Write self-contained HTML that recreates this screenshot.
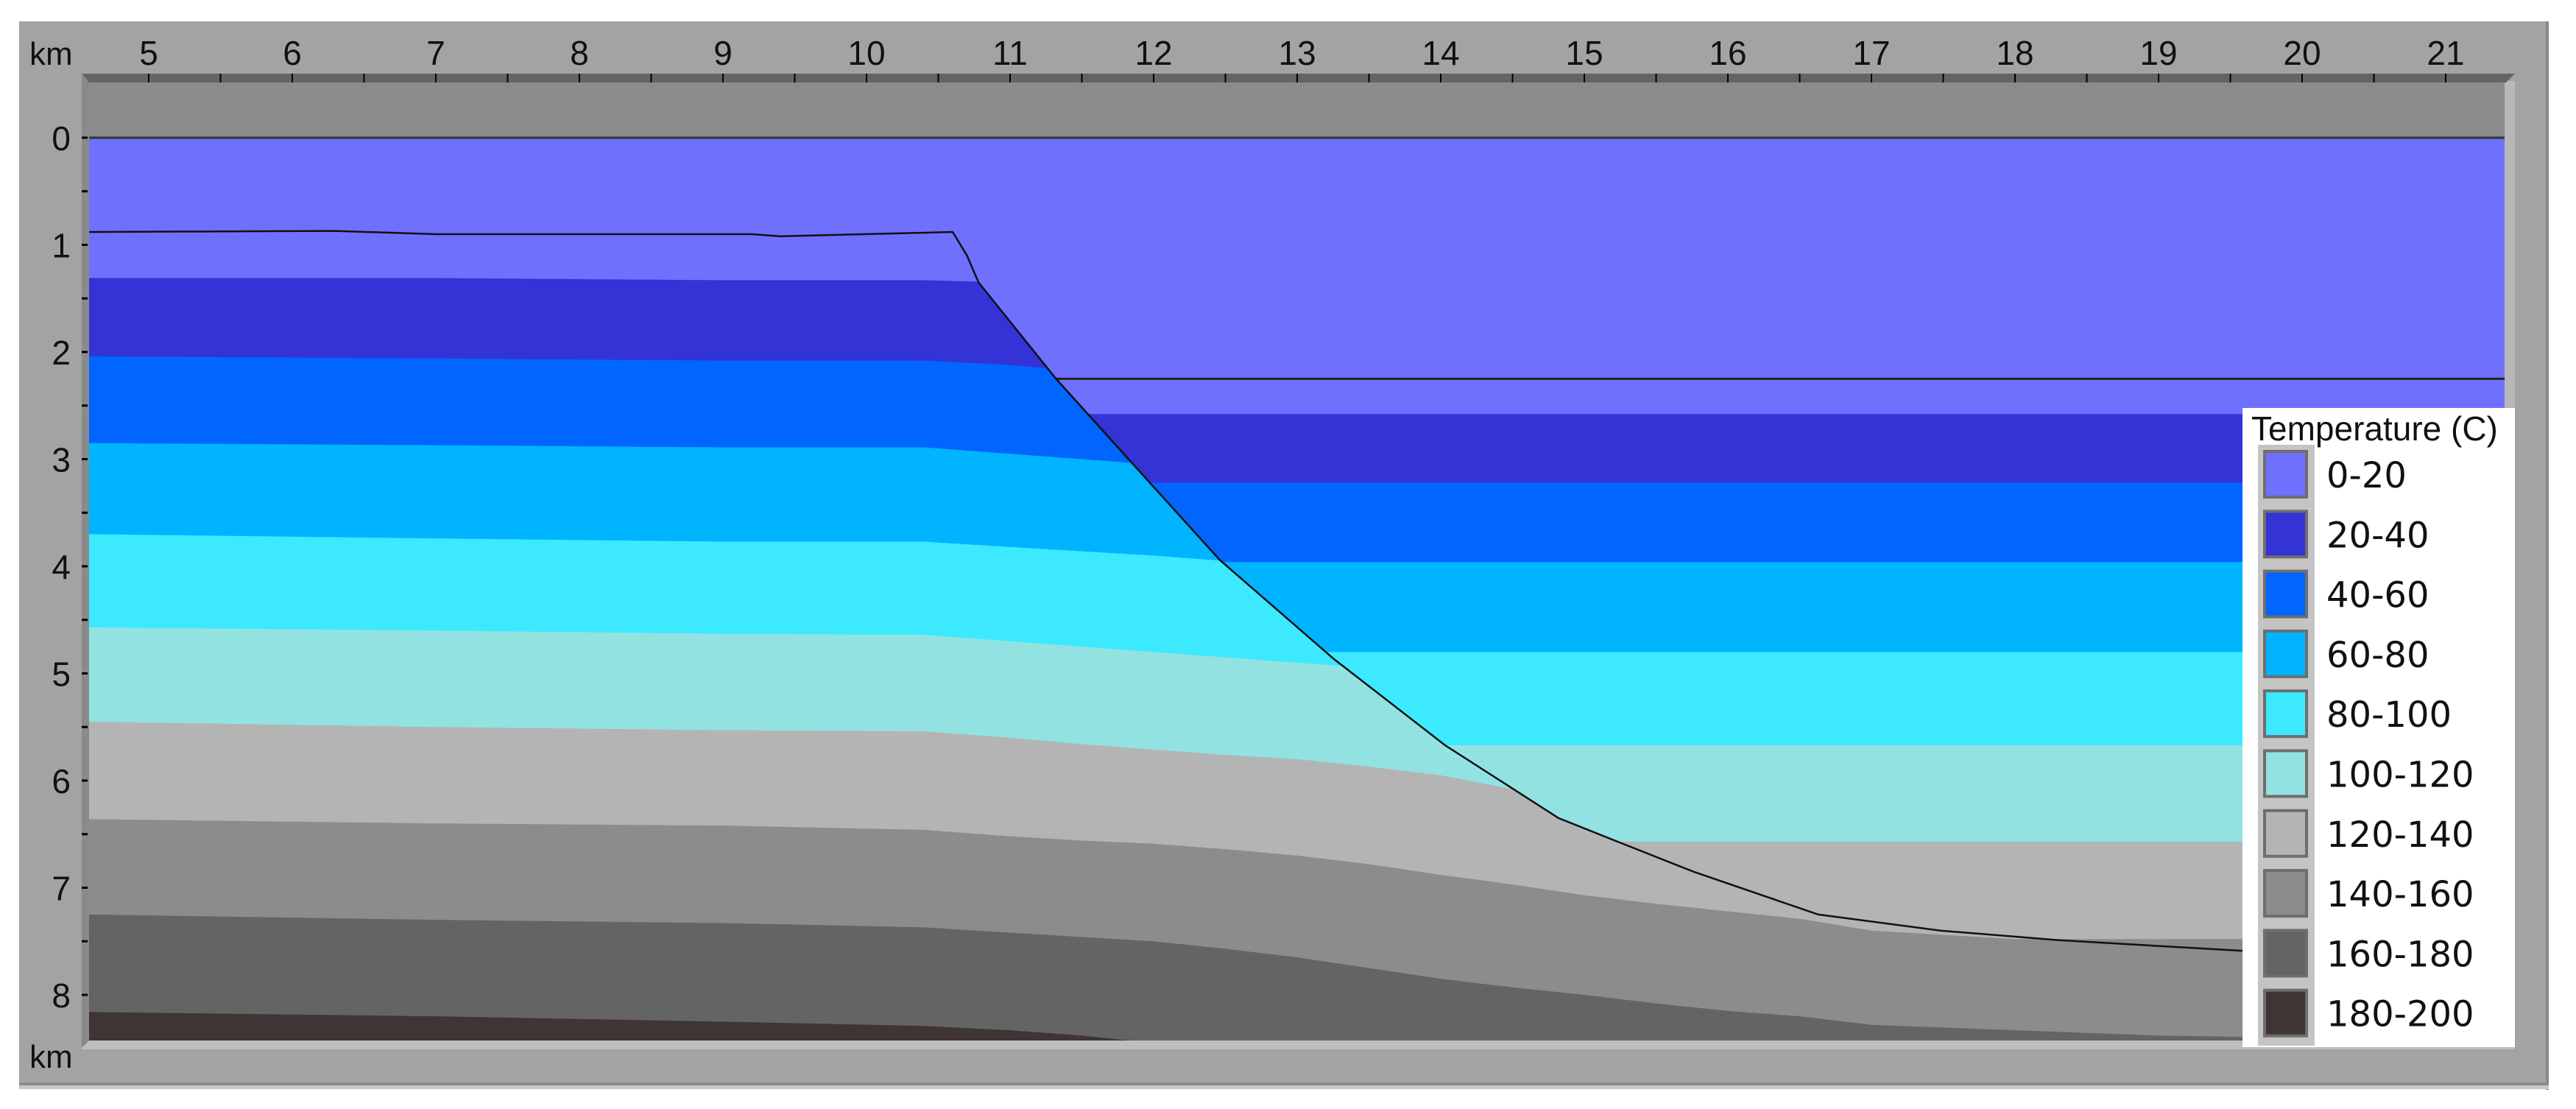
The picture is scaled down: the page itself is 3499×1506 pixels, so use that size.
<!DOCTYPE html>
<html><head><meta charset="utf-8"><title>Temperature section</title>
<style>html,body{margin:0;padding:0;background:#fff;}svg{display:block;}</style></head>
<body>
<svg id="chart" xmlns="http://www.w3.org/2000/svg" width="3499" height="1506" viewBox="0 0 3499 1506">
  <rect x="26" y="29" width="3435" height="1443" fill="#a3a3a3"/>
  <rect x="3458" y="29" width="4" height="1451" fill="#8a8a8a"/>
  <rect x="26" y="1470" width="3436" height="4" fill="#8a8a8a"/>
  <rect x="26" y="1474" width="3436" height="5" fill="#c8c8c8"/>
  <g id="plot"></g>
  <g id="axes"></g>
  <g id="legend"></g>
</svg>
<script>
// ---- data ----
const bandLabels = ["0-20","20-40","40-60","60-80","80-100","100-120","120-140","140-160","160-180","180-200"];
const bandColors = ["#7070ff","#3333d6","#0066ff","#00b4ff","#3ce9ff","#93e2e2","#b4b4b4","#8c8c8c","#646464","#403535"];
const xTicks = [5,6,7,8,9,10,11,12,13,14,15,16,17,18,19,20,21];
const yTicks = [0,1,2,3,4,5,6,7,8];
// seafloor profile (km, depth km)
const seafloorX = [4.58,6.3,7.0,9.2,9.4,10.6,10.7,10.78,11.32,12.0,12.46,13.25,14.03,14.82,15.25,15.76,16.63,17.48,18.31,19.59,21.41];
const seafloorD = [0.88,0.87,0.9,0.9,0.92,0.88,1.1,1.35,2.25,3.26,3.94,4.86,5.67,6.35,6.58,6.85,7.25,7.4,7.49,7.59,7.65];
// horizontal reflector line in water column
const waterLineDepth = 2.25;
const waterLineStartX = 11.32;
// sediment isotherm grid
const gridX = [4.58,7,9,10.4,11,11.5,12,12.5,13,13.5,14,14.5,15,15.5,16,16.5,17,18,19,20,21.41];
const iso20  = [1.31,1.31,1.33,1.33,1.35,1.4,1.45,1.5,1.5,1.5,1.5,1.5,1.5,1.5,1.5,1.5,1.5,1.5,1.5,1.5,1.5];
const iso40  = [2.04,2.06,2.08,2.08,2.12,2.18,2.25,2.3,2.3,2.3,2.3,2.3,2.3,2.3,2.3,2.3,2.3,2.3,2.3,2.3,2.3];
const iso60  = [2.85,2.87,2.89,2.89,2.95,3.0,3.05,3.1,3.15,3.15,3.15,3.15,3.15,3.15,3.15,3.15,3.15,3.15,3.15,3.15,3.15];
const iso80  = [3.7,3.74,3.77,3.77,3.82,3.86,3.9,3.95,4.0,4.05,4.05,4.05,4.05,4.05,4.05,4.05,4.05,4.05,4.05,4.05,4.05];
const iso100 = [4.57,4.6,4.63,4.64,4.7,4.75,4.8,4.85,4.9,4.95,5.0,5.0,5.0,5.0,5.0,5.0,5.0,5.0,5.0,5.0,5.0];
const iso120 = [5.45,5.5,5.53,5.54,5.6,5.66,5.71,5.76,5.8,5.87,5.95,6.08,6.2,6.35,6.5,6.5,6.5,6.5,6.5,6.5,6.5];
const iso140 = [6.36,6.4,6.42,6.46,6.52,6.56,6.59,6.64,6.7,6.78,6.88,6.97,7.07,7.15,7.22,7.29,7.4,7.48,7.55,7.6,7.6];
const iso160 = [7.25,7.3,7.33,7.37,7.42,7.46,7.5,7.57,7.65,7.75,7.85,7.93,8.0,8.08,8.15,8.2,8.28,8.33,8.38,8.4,8.42];
const iso180 = [8.16,8.2,8.25,8.29,8.33,8.38,8.45,8.6,8.7,8.8,8.9,9,9,9,9,9,9,9,9,9,9];
// water-column isotherm depths (right side)
const waterIso = [2.58,3.22,3.96,4.8,5.67,6.57,7.48,99,99];

// ---- scales ----
const X0=202, XK=195, Y0=187, YK=145.5;
const PL=121, PR=3402, PT=112, PB=1413;
function sx(x){return X0+(x-5)*XK;}
function sy(d){return Y0+d*YK;}
const NS="http://www.w3.org/2000/svg";
function mk(tag,attrs,parent){const e=document.createElementNS(NS,tag);for(const k in attrs)e.setAttribute(k,attrs[k]);parent.appendChild(e);return e;}
function interp(xa,ya,x){if(x<=xa[0])return ya[0];for(let i=1;i<xa.length;i++){if(x<=xa[i]){const t=(x-xa[i-1])/(xa[i]-xa[i-1]);return ya[i-1]+t*(ya[i]-ya[i-1]);}}return ya[ya.length-1];}

const plot=document.getElementById('plot');
const axes=document.getElementById('axes');
const legend=document.getElementById('legend');

const defs=mk('defs',{},plot);
const cp=mk('clipPath',{id:'clip'},defs);
mk('rect',{x:PL,y:PT,width:PR-PL,height:PB-PT},cp);
const g=mk('g',{'clip-path':'url(#clip)'},plot);

const air=mk('rect',{x:PL,y:PT,width:PR-PL,height:sy(0)-PT,fill:"#8c8c8c"},g);


const b0=mk('rect',{x:PL,y:sy(0),width:PR-PL,height:PB-sy(0),fill:bandColors[0]},g);



const isos=[iso20,iso40,iso60,iso80,iso100,iso120,iso140,iso160,iso180];
const xmin=4.58, xmax=21.41, step=0.02;
for(let i=0;i<isos.length;i++){
  let pts=[];
  for(let x=xmin;x<=xmax+1e-9;x+=step){
    const sed=interp(gridX,isos[i],x);
    const sf=interp(seafloorX,seafloorD,x);
    const d=Math.min(waterIso[i],Math.max(sed,sf));
    pts.push(sx(x).toFixed(1)+","+sy(d).toFixed(1));
  }
  pts.push(sx(xmax)+","+(PB+20));
  pts.push(sx(xmin)+","+(PB+20));
  const p=mk('polygon',{points:pts.join(" "),fill:bandColors[i+1]},g);
  
  
}
// sea level line
const sl=mk('line',{x1:PL,x2:PR,y1:sy(0),y2:sy(0),stroke:"#333",'stroke-width':3},g);


// water line
const wl=mk('line',{x1:sx(waterLineStartX),x2:PR,y1:sy(waterLineDepth),y2:sy(waterLineDepth),stroke:"#222",'stroke-width':3},g);


// seafloor
const sfPts=seafloorX.map((x,i)=>sx(x).toFixed(1)+","+sy(seafloorD[i]).toFixed(1)).join(" ");
const sfl=mk('polyline',{points:sfPts,fill:"none",stroke:"#111",'stroke-width':2.5},g);



// right and bottom light strips
const rs=mk('rect',{x:PR,y:PT-2,width:14,height:PB-PT+14,fill:"#b8b8b8"},axes);


const bs=mk('rect',{x:PL-10,y:PB,width:PR-PL+24,height:12,fill:"#bebebe"},axes);


// top axis bar
const tb=mk('polygon',{points:`111,100 3416,100 3404,112 121,112`,fill:"#646464"},axes);


const lb=mk('polygon',{points:`111,100 121,112 121,${PB} 111,${PB+10}`,fill:"#8a8a8a"},axes);


for(let v=4.5;v<=21.5;v+=0.5){
  const px=sx(v); if(px<PL||px>PR) continue;
  const t=mk('line',{x1:px,x2:px,y1:100,y2:112,stroke:"#000",'stroke-width':2},axes);
  
  
}
for(let v=0;v<=8.4;v+=0.5){
  const py=sy(v);
  const t=mk('line',{x1:111,x2:119,y1:py,y2:py,stroke:"#000",'stroke-width':3},axes);
  
  
}
const FONT='"Liberation Sans", Arial, sans-serif';
xTicks.forEach(v=>{
  const t=mk('text',{x:sx(v),y:88,'text-anchor':'middle','font-family':FONT,'font-size':46,fill:"#111"},axes);
  t.textContent=v;
  
  
});
yTicks.forEach(v=>{
  const t=mk('text',{x:96,y:sy(v)+17,'text-anchor':'end','font-family':FONT,'font-size':46,fill:"#111"},axes);
  t.textContent=v;
  
  
});
const k1=mk('text',{x:40,y:88,'font-family':FONT,'font-size':44,fill:"#111"},axes);
k1.textContent="km";


const k2=mk('text',{x:40,y:1450,'font-family':FONT,'font-size':44,fill:"#111"},axes);
k2.textContent="km";



// legend
const lbg=mk('rect',{x:3046,y:554,width:370,height:868,fill:"#fff"},legend);


const lt=mk('text',{x:3058,y:598,'font-family':FONT,'font-size':46,fill:"#111"},legend);
lt.textContent="Temperature (C)";


const sw=mk('rect',{x:3067,y:604,width:77,height:816,fill:"#c4c4c4"},legend);


bandLabels.forEach((lab,i)=>{
  const cy=644+i*81.3;
  const r=mk('rect',{x:3076,y:cy-31,width:57,height:62,fill:bandColors[i],stroke:"#6e6e6e",'stroke-width':4},legend);
  
  
  const t=mk('text',{x:3160,y:cy+18,'font-family':'"DejaVu Sans", Verdana, sans-serif','font-size':48,fill:"#111"},legend);
  t.textContent=lab;
  
  
});
</script>
</body></html>
